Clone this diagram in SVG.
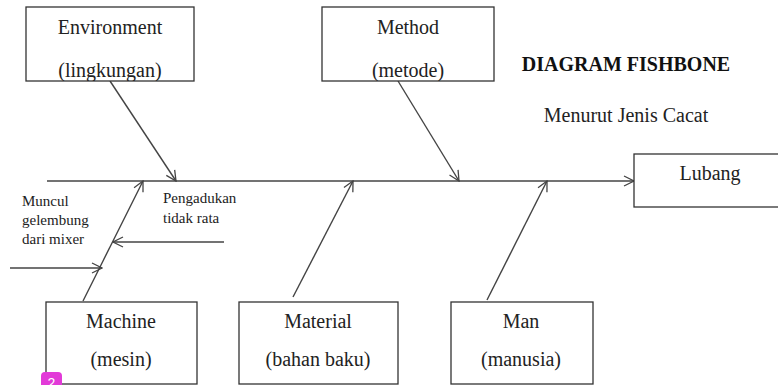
<svg xmlns="http://www.w3.org/2000/svg" width="778" height="385" viewBox="0 0 778 385">
<style>
.box{fill:#fff;stroke:#333;stroke-width:1.3}
.t{font-family:"Liberation Serif","Times New Roman",serif;font-size:20px;fill:#222;text-anchor:middle}
.s{font-family:"Liberation Serif","Times New Roman",serif;font-size:15px;fill:#222}
.ln{stroke:#444;stroke-width:1.4;fill:none;marker-end:url(#ah)}
</style>
<defs>
<marker id="ah" viewBox="0 0 12 12" refX="11" refY="6" markerWidth="12" markerHeight="12" markerUnits="userSpaceOnUse" orient="auto">
<path d="M1,1 L11,6 L1,11" fill="none" stroke="#444" stroke-width="1.3"/>
</marker>
<clipPath id="cEnv"><rect x="26" y="7" width="168" height="74"/></clipPath>
<clipPath id="cMet"><rect x="322" y="7" width="172" height="74"/></clipPath>
<clipPath id="cMix"><rect x="0" y="185" width="120" height="59"/></clipPath>
</defs>
<rect width="778" height="385" fill="#fff"/>
<g id="connectors">
<line class="ln" x1="47" y1="181" x2="634" y2="181"/>
<line class="ln" x1="110" y1="81" x2="176" y2="181"/>
<line class="ln" x1="398" y1="81" x2="459" y2="181"/>
<line class="ln" x1="83" y1="301" x2="143" y2="181"/>
<line class="ln" x1="293" y1="297" x2="353" y2="181"/>
<line class="ln" x1="487" y1="300" x2="547" y2="181"/>
<line class="ln" x1="224" y1="242" x2="113" y2="242"/>
<line class="ln" x1="10" y1="268" x2="102" y2="268"/>
</g>
<g id="environment">
<rect class="box" x="26" y="7" width="168" height="74"/>
<g clip-path="url(#cEnv)">
<text class="t" x="110" y="34">Environment</text>
<text class="t" x="110" y="77">(lingkungan)</text>
</g>
</g>
<g id="method">
<rect class="box" x="322" y="7" width="172" height="74"/>
<g clip-path="url(#cMet)">
<text class="t" x="408" y="34">Method</text>
<text class="t" x="408" y="77">(metode)</text>
</g>
</g>
<g id="title">
<text x="626" y="71" style="font-family:'Liberation Serif','Times New Roman',serif;font-size:20px;font-weight:bold;fill:#111;text-anchor:middle">DIAGRAM FISHBONE</text>
<text class="t" x="626" y="122">Menurut Jenis Cacat</text>
</g>
<g id="lubang">
<rect class="box" x="634" y="154" width="150" height="53"/>
<text class="t" x="710" y="180">Lubang</text>
</g>
<g id="machine">
<rect class="box" x="46" y="302" width="151" height="82"/>
<text class="t" x="121" y="328">Machine</text>
<text class="t" x="121" y="366">(mesin)</text>
</g>
<g id="material">
<rect class="box" x="239" y="302" width="159" height="82"/>
<text class="t" x="318" y="328">Material</text>
<text class="t" x="318" y="366">(bahan baku)</text>
</g>
<g id="man">
<rect class="box" x="451" y="302" width="142" height="82"/>
<text class="t" x="521" y="328">Man</text>
<text class="t" x="521" y="366">(manusia)</text>
</g>
<g id="cause-mixer" clip-path="url(#cMix)">
<text class="s" x="22" y="206">Muncul</text>
<text class="s" x="22" y="225">gelembung</text>
<text class="s" x="22" y="244">dari mixer</text>
</g>
<g id="cause-pengadukan">
<text class="s" x="163" y="203">Pengadukan</text>
<text class="s" x="163" y="223">tidak rata</text>
</g>
<g id="badge">
<rect x="41" y="372" width="21" height="20" rx="4" fill="#e23ad8"/>
<text x="51.5" y="388" style="font-family:'Liberation Sans',sans-serif;font-size:14px;fill:#fff;text-anchor:middle">2</text>
</g>
</svg>
